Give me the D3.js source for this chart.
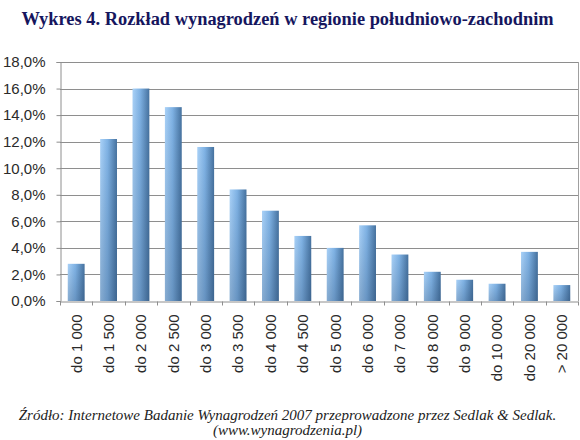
<!DOCTYPE html>
<html>
<head>
<meta charset="utf-8">
<script src="https://cdn.jsdelivr.net/npm/d3@7"></script>
<style>
  body { margin: 0; background: #fff; }
  svg { display: block; }
</style>
</head>
<body>
<script>
// chart data
var categories = ["do 1 000", "do 1 500", "do 2 000", "do 2 500", "do 3 000", "do 3 500",
    "do 4 000", "do 4 500", "do 5 000", "do 6 000", "do 7 000", "do 8 000",
    "do 9 000", "do 10 000", "do 20 000", "> 20 000"];
var shares = [2.8, 12.2, 16.0, 14.6, 11.6, 8.4, 6.8, 4.9, 4.0, 5.7, 3.5, 2.2, 1.6, 1.3, 3.7, 1.2];
var yTicks = [0, 2, 4, 6, 8, 10, 12, 14, 16, 18];

var titleText = "Wykres 4. Rozkład wynagrodzeń w regionie południowo-zachodnim";
var sourceLines = ["Źródło: Internetowe Badanie Wynagrodzeń 2007 przeprowadzone przez Sedlak & Sedlak.",
    "(www.wynagrodzenia.pl)"];

var w = 580, h = 440;
var plot = {left: 60, right: 578, top: 62, bottom: 301};

var svg = d3.select("body").append("svg")
    .attr("width", w)
    .attr("height", h);

//bar gradient, light on the left, dark on the right
var defs = svg.append("defs");
var grad = defs.append("linearGradient")
    .attr("id", "barGrad")
    .attr("x1", "0").attr("x2", "1")
    .attr("y1", "0").attr("y2", "0");
grad.append("stop").attr("offset", "0%").attr("stop-color", "#a9d1f7");
grad.append("stop").attr("offset", "45%").attr("stop-color", "#7fb2e4");
grad.append("stop").attr("offset", "100%").attr("stop-color", "#46729f");

var shade = defs.append("linearGradient")
    .attr("id", "barShade")
    .attr("x1", "0").attr("x2", "0")
    .attr("y1", "0").attr("y2", "1");
shade.append("stop").attr("offset", "0%").attr("stop-color", "#1f3a5c").attr("stop-opacity", 0);
shade.append("stop").attr("offset", "100%").attr("stop-color", "#1f3a5c").attr("stop-opacity", 0.25);

var x = d3.scaleBand()
    .domain(categories)
    .range([plot.left, plot.right])
    .paddingInner(0.48)
    .paddingOuter(0.24);

var y = d3.scaleLinear()
    .domain([0, 18])
    .range([plot.bottom, plot.top]);

//grid lines
svg.append("g")
    .selectAll("line")
    .data(yTicks.slice(1))
    .enter()
    .append("line")
    .attr("x1", plot.left)
    .attr("x2", plot.right)
    .attr("y1", function(d){ return Math.round(y(d)) + 0.5; })
    .attr("y2", function(d){ return Math.round(y(d)) + 0.5; })
    .style("stroke", "#8e8e8e")
    .style("stroke-width", 1);

//right border of plot area
svg.append("line")
    .attr("x1", plot.right + 0.5).attr("x2", plot.right + 0.5)
    .attr("y1", plot.top).attr("y2", plot.bottom)
    .style("stroke", "#a0a0a0");

//bars
var bars = svg.append("g").selectAll("g")
    .data(shares)
    .enter()
    .append("g");

bars.append("rect")
    .attr("x", function(d, i){ return x(categories[i]); })
    .attr("y", function(d){ return y(d); })
    .attr("width", x.bandwidth())
    .attr("height", function(d){ return y(0) - y(d); })
    .style("fill", "url(#barGrad)");

bars.append("rect")
    .attr("x", function(d, i){ return x(categories[i]); })
    .attr("y", function(d){ return y(d); })
    .attr("width", x.bandwidth())
    .attr("height", function(d){ return y(0) - y(d); })
    .style("fill", "url(#barShade)");

//y axis
var yAxis = d3.axisLeft(y)
    .tickValues(yTicks)
    .tickSize(4)
    .tickPadding(11)
    .tickFormat(function(d){ return d3.format(".1f")(d).replace(".", ",") + "%"; });

var yG = svg.append("g")
    .attr("transform", "translate(" + (plot.left + 0.5) + ",0)")
    .call(yAxis);

//x axis, ticks between categories
var xAxis = d3.axisBottom(x)
    .tickSize(0)
    .tickPadding(0);

var xG = svg.append("g")
    .attr("transform", "translate(0," + (plot.bottom + 0.5) + ")")
    .call(xAxis);

xG.selectAll(".tick text")
    .attr("transform", "rotate(-90)")
    .attr("text-anchor", "end")
    .attr("x", -13)
    .attr("y", 0)
    .attr("dy", "0.36em");

var step = x.step();
xG.append("g").selectAll("line")
    .data(d3.range(categories.length + 1))
    .enter()
    .append("line")
    .attr("x1", function(i){ return Math.round(plot.left + i * step) + 0.5; })
    .attr("x2", function(i){ return Math.round(plot.left + i * step) + 0.5; })
    .attr("y1", 0)
    .attr("y2", 4)
    .style("stroke", "#8e8e8e");

svg.selectAll(".domain").style("stroke", "#8e8e8e");
yG.selectAll(".tick line").style("stroke", "#8e8e8e");
svg.selectAll(".tick text")
    .style("font-family", "'Liberation Sans', Arial, sans-serif")
    .style("font-size", "15px")
    .style("fill", "#2a2a2a");

//title
svg.append("text")
    .attr("x", 287.5)
    .attr("y", 25)
    .attr("text-anchor", "middle")
    .style("font-family", "'Liberation Serif', 'Times New Roman', serif")
    .style("font-weight", "bold")
    .style("font-size", "18.4px")
    .style("fill", "#16165e")
    .text(titleText);

//source note
svg.append("g").selectAll("text")
    .data(sourceLines)
    .enter()
    .append("text")
    .attr("x", 287.5)
    .attr("y", function(d, i){ return 420 + i * 15; })
    .attr("text-anchor", "middle")
    .style("font-family", "'Liberation Serif', 'Times New Roman', serif")
    .style("font-style", "italic")
    .style("font-size", "15px")
    .style("fill", "#222")
    .text(function(d){ return d; });
</script>
</body>
</html>
